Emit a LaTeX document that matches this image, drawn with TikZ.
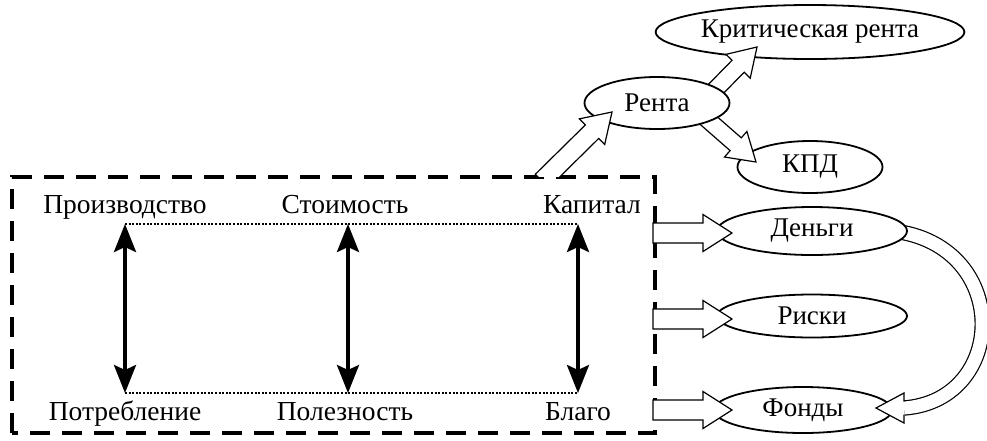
\documentclass[tikz,border=0pt]{standalone}
\usepackage{fontspec}
\setmainfont{Liberation Serif}
\usetikzlibrary{arrows.meta,calc,shapes.geometric}
% fat hollow arrow: from, to, shaft half, head half, head length
\newcommand\fatarrow[5]{%
  \coordinate (hb) at ($(#2)!#5!(#1)$);
  \draw[fat] ($(#1)!#3!90:(#2)$) -- ($(hb)!#3!-90:(#1)$) -- ($(hb)!#4!-90:(#1)$) -- (#2)
    -- ($(hb)!#4!90:(#1)$) -- ($(hb)!#3!90:(#1)$) -- ($(#1)!#3!-90:(#2)$) -- cycle;}
\begin{document}
\begin{tikzpicture}[x=1pt,y=-1pt,
  txt/.style={font=\fontsize{27.5}{30}\selectfont, inner sep=0pt, anchor=base},
  ell/.style={ellipse, draw, line width=1.8pt, fill=white, inner sep=0pt, font=\fontsize{27}{30}\selectfont},
  fat/.style={draw, line width=1.2pt, fill=white, line join=miter},
  dbl/.style={line width=3.5pt, {Stealth[length=28pt,width=22pt,inset=5pt]}-{Stealth[length=28pt,width=22pt,inset=5pt]}},
  dots/.style={line width=1.6pt, dash pattern=on 2pt off 1.6pt},
  box/.style={line width=3.5pt, dash pattern=on 20pt off 12pt}]
\useasboundingbox (0,0) rectangle (987,440);

% dashed frame
\draw[box] (12,433) -- (12,177) -- (655,177) -- (655,433) -- cycle;

% texts in frame
\node[txt] (prod) at (125,213) {Производство};
\node[txt] (stoim) at (345,213) {Стоимость};
\node[txt] (kap) at (592,213) {Капитал};
\node[txt] (potr) at (125,420) {Потребление};
\node[txt] (polez) at (345,420) {Полезность};
\node[txt] (blago) at (578,420) {Благо};

\coordinate (a1) at (125,224); \coordinate (a2) at (125,393);
\coordinate (b1) at (348,224); \coordinate (b2) at (348,393);
\coordinate (c1) at (578,224); \coordinate (c2) at (578,393);
\draw[dots] (a1) -- (c1);
\draw[dots] (a2) -- (c2);
\draw[dbl] (a1) -- (a2);
\draw[dbl] (b1) -- (b2);
\draw[dbl] (c1) -- (c2);

% curved arrow shaft Деньги -> Фонды
\coordinate (cs) at (880,230);
\coordinate (ce) at (904,408);
\draw[line width=1.2pt, double=white, double distance=13pt] (cs) .. controls (1012,234) and (1012,400) .. (ce);

% right ellipses
\node[ell, minimum width=190pt, minimum height=48pt] (den) at (812,231) {Деньги};
\node[ell, minimum width=190pt, minimum height=43pt] (risk) at (812,316) {Риски};
\node[ell, minimum width=178pt, minimum height=46pt] (fond) at (803,410) {Фонды};

% head of curved arrow
\coordinate (ct) at (876,408);
\draw[line width=1.2pt, fill=white, line join=miter] (904,401.5) -- (904,393) -- (ct) -- (904,423) -- (904,414.5);

% upper ellipses
\node[ell, minimum width=274pt, minimum height=54pt] (krit) at (810,32) {Критическая рента};
\node[ell, minimum width=145pt, minimum height=52pt] (kpd) at (810,167) {КПД};

\coordinate (r1) at (705,100); \coordinate (kt) at (757,47);
\coordinate (r2) at (700,113); \coordinate (pt) at (756,162);
\fatarrow{r1}{kt}{8.5pt}{17pt}{27pt}
\fatarrow{r2}{pt}{8.5pt}{17pt}{27pt}

\node[ell, minimum width=145pt, minimum height=52pt] (renta) at (657,103) {Рента};

% arrow from frame to Рента
\begin{scope}
\clip (0,0) rectangle (987,176);
\coordinate (k0) at (542,181); \coordinate (rt) at (612,112);
\fatarrow{k0}{rt}{9.5pt}{18pt}{28pt}
\end{scope}

% arrows from frame to right ellipses
\coordinate (d0) at (653,233); \coordinate (dt) at (732,233);
\coordinate (s0) at (653,319); \coordinate (st) at (732,319);
\coordinate (f0) at (653,410); \coordinate (ft) at (732,410);
\fatarrow{d0}{dt}{10pt}{18.5pt}{29pt}
\fatarrow{s0}{st}{10pt}{18.5pt}{29pt}
\fatarrow{f0}{ft}{10pt}{18.5pt}{29pt}
\end{tikzpicture}
\end{document}
